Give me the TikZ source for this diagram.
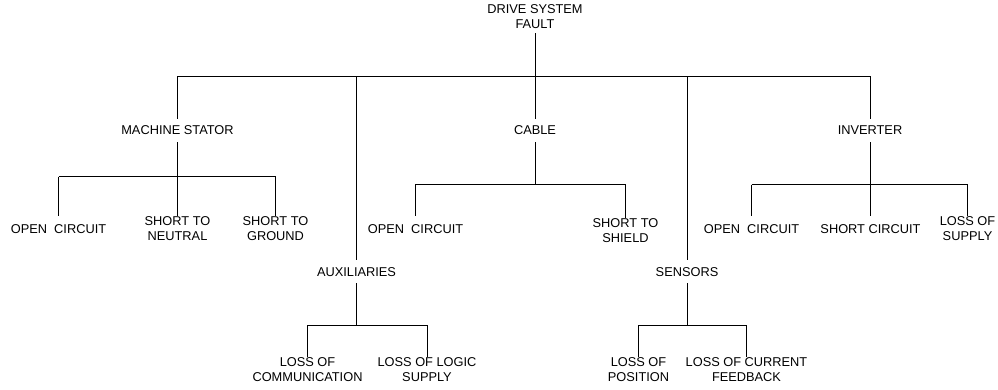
\documentclass[tikz,border=0pt]{standalone}
\usepackage{fontspec}
\setmainfont{Liberation Sans}
\begin{document}
\begin{tikzpicture}[x=1pt,y=-1pt,
  lbl/.style={font=\fontsize{12.8}{15}\selectfont, inner xsep=1pt, inner ysep=7pt},
  two/.style={lbl, align=center, inner ysep=0pt},
  leaf/.style={lbl, inner ysep=8pt},
  conn/.style={line width=1pt, black}]
\useasboundingbox (0,0) rectangle (998,389);
% root
\node[two, inner ysep=4pt] (top) at (535,16.8) {DRIVE SYSTEM\\FAULT};
% level 1
\node[lbl] (ms) at (177.5,130.5) {MACHINE STATOR};
\node[lbl] (aux) at (356.5,271.7) {AUXILIARIES};
\node[lbl] (cab) at (535,130.5) {CABLE};
\node[lbl] (sen) at (687,271.7) {SENSORS};
\node[lbl] (inv) at (870,130.5) {INVERTER};
% machine stator leaves
\node[leaf] (oc1) at (58.5,228.8) {OPEN\ \ CIRCUIT};
\node[two] (sn) at (177.5,228.5) {SHORT TO\\NEUTRAL};
\node[two] (sg) at (275.5,228.5) {SHORT TO\\GROUND};
% cable leaves
\node[leaf] (oc2) at (415.5,228.8) {OPEN\ \ CIRCUIT};
\node[two] (ss) at (625.5,230.3) {SHORT TO\\SHIELD};
% inverter leaves
\node[leaf] (oc3) at (751.5,228.8) {OPEN\ \ CIRCUIT};
\node[leaf] (sc) at (870.5,228.8) {SHORT CIRCUIT};
\node[two] (ls) at (967.5,228.5) {LOSS OF\\SUPPLY};
% auxiliaries leaves
\node[two] (lc) at (307.5,369.2) {LOSS OF\\COMMUNICATION};
\node[two] (ll) at (427,369.2) {LOSS OF LOGIC\\SUPPLY};
% sensors leaves
\node[two] (lp) at (638.5,369.2) {LOSS OF\\POSITION};
\node[two] (lcf) at (746.5,369.2) {LOSS OF CURRENT\\FEEDBACK};
% bar levels
\coordinate (b1) at (0,76);
\coordinate (bms) at (0,176.5);
\coordinate (bcab) at (0,184.3);
\coordinate (binv) at (0,184.7);
\coordinate (baux) at (0,325);
\coordinate (bsen) at (0,325);
% root connectors
\draw[conn] (top.south) -- (top.south |- b1);
\draw[conn] (ms |- b1) -- (inv |- b1);
\draw[conn] (ms |- b1) -- (ms.north);
\draw[conn] (aux |- b1) -- (aux.north);
\draw[conn] (cab |- b1) -- (cab.north);
\draw[conn] (sen |- b1) -- (sen.north);
\draw[conn] (inv |- b1) -- (inv.north);
% machine stator
\draw[conn] (ms.south) -- (ms |- bms);
\draw[conn] (oc1 |- bms) -- (sg |- bms);
\draw[conn] (oc1 |- bms) -- (oc1.north);
\draw[conn] (sn |- bms) -- (sn.north);
\draw[conn] (sg |- bms) -- (sg.north);
% cable
\draw[conn] (cab.south) -- (cab |- bcab);
\draw[conn] (oc2 |- bcab) -- (ss |- bcab);
\draw[conn] (oc2 |- bcab) -- (oc2.north);
\draw[conn] (ss |- bcab) -- (ss.north);
% inverter
\draw[conn] (inv.south) -- (inv |- binv);
\draw[conn] (oc3 |- binv) -- (ls |- binv);
\draw[conn] (oc3 |- binv) -- (oc3.north);
\draw[conn] (sc |- binv) -- (sc.north);
\draw[conn] (ls |- binv) -- (ls.north);
% auxiliaries
\draw[conn] (aux.south) -- (aux |- baux);
\draw[conn] (lc |- baux) -- (ll |- baux);
\draw[conn] (lc |- baux) -- (lc.north);
\draw[conn] (ll |- baux) -- (ll.north);
% sensors
\draw[conn] (sen.south) -- (sen |- bsen);
\draw[conn] (lp |- bsen) -- (lcf |- bsen);
\draw[conn] (lp |- bsen) -- (lp.north);
\draw[conn] (lcf |- bsen) -- (lcf.north);
\end{tikzpicture}
\end{document}
